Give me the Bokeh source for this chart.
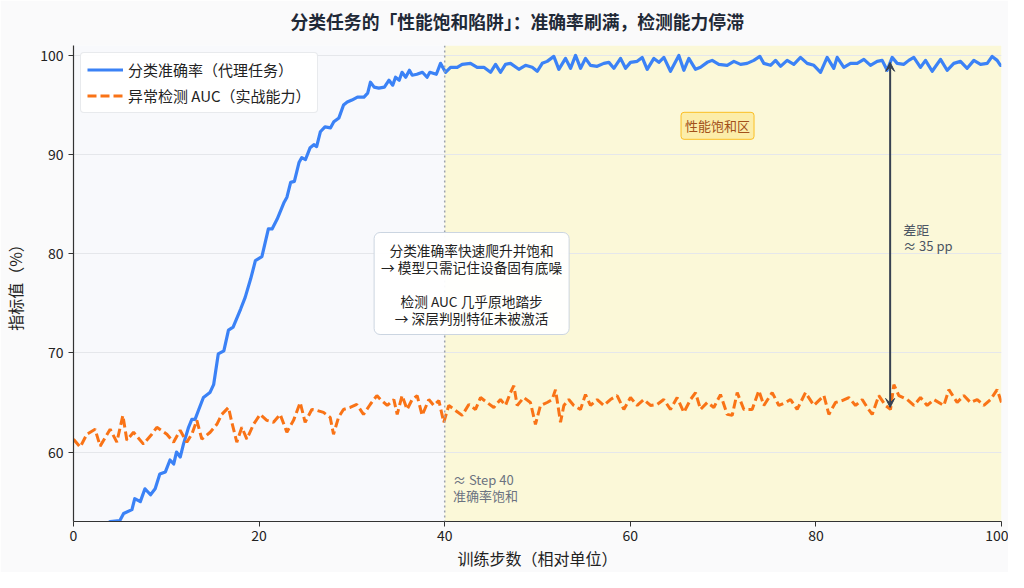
from bokeh.plotting import figure
from bokeh.models import (ColumnDataSource, BoxAnnotation, Span, Label, Arrow,
                          VeeHead, Range1d, FixedTicker, Legend, LegendItem, Title)
from bokeh.embed import file_html
from bokeh.resources import INLINE

FONT = "Noto Sans CJK SC"

title_text = "分类任务的「性能饱和陷阱」：准确率刷满，检测能力停滞"
x_label = "训练步数（相对单位）"
y_label = "指标值（%）"
acc_name = "分类准确率（代理任务）"
auc_name = "异常检测 AUC（实战能力）"
x_ticks = [0, 20, 40, 60, 80, 100]
y_ticks = [60, 70, 80, 90, 100]

# classification accuracy (proxy task)
acc_steps = [0, 1, 2, 3, 3.95, 5.0, 5.4, 6.3, 6.6, 7.2, 7.7, 8.3, 8.8, 9.3, 9.9,
             10.4, 10.8, 11.1, 11.5, 11.85, 12.4, 12.75, 13.1, 13.5, 14.0, 14.7,
             15.1, 15.6, 16.2, 16.7, 17.2, 18.0, 18.5, 19.1, 19.6, 20.3, 21.0,
             21.4, 21.95, 22.7, 23.0, 23.4, 23.8, 24.3, 24.6, 25.0, 25.5, 25.9,
             26.2, 26.6, 27.1, 27.7, 28.05, 28.6, 29.1, 29.5, 30.0, 30.6, 31.3,
             31.7, 32.0, 32.4, 32.9, 33.5, 34.0, 34.4, 34.7, 35.1, 35.4, 35.8,
             36.2, 36.5, 37.0, 37.6, 38.1, 38.4, 39.1,
             39.55, 40.09, 40.63, 41.35, 41.88, 42.78, 43.5, 44.22, 44.94, 45.48,
             46.02, 46.55, 47.09, 47.99, 48.71, 49.43, 49.97, 50.51, 51.04, 51.76,
             52.3, 53.02, 53.56, 54.1, 54.64, 55.17, 55.71, 56.43, 57.15, 57.69,
             58.23, 58.95, 59.49, 60.02, 60.74, 61.28, 61.82, 62.54, 63.08, 63.62,
             64.33, 65.23, 65.77, 66.31, 67.03, 67.57, 68.29, 68.82, 69.54,
             70.44, 71.16, 71.88, 72.59, 73.31, 73.96, 74.39, 75.11, 75.65, 76.19,
             76.9, 77.62, 78.34, 79.06, 79.78, 80.5, 81.21, 81.93, 82.29, 83.01,
             83.73, 84.45, 85.17, 85.88, 86.6, 87.14, 87.68, 88.22, 88.76, 89.48,
             90.01, 90.55, 91.27, 91.81, 92.53, 93.43, 94.14, 94.86, 95.58, 96.3,
             97.02, 97.74, 98.46, 98.99, 99.53, 99.89, 100]
acc_values = [49.5, 50.3, 51.0, 52.2, 53.0, 53.1, 53.8, 54.2, 55.3, 55.0, 56.3, 55.7, 56.3, 57.8, 58.0,
              59.2, 58.8, 60.0, 59.5, 60.8, 62.5, 63.3, 63.3, 64.3, 65.5, 66.0,
              66.8, 69.9, 70.2, 72.3, 72.6, 74.4, 75.6, 77.5, 79.3, 79.7, 82.5,
              82.5, 83.5, 85.2, 85.7, 87.2, 87.3, 89.2, 89.7, 89.5, 90.7, 91.0,
              90.8, 92.3, 92.8, 92.7, 93.3, 93.7, 95.0, 95.3, 95.5, 95.8, 95.8,
              96.2, 97.3, 96.8, 96.7, 96.8, 97.5, 97.0, 97.8, 97.5, 98.3, 97.8,
              98.5, 98.0, 98.1, 98.3, 97.8, 98.3, 98.1,
              99.2, 98.3, 98.8, 98.8, 99.1, 99.2, 98.8, 98.8, 98.3, 99.1,
              98.3, 99.1, 99.2, 98.6, 99.0, 98.8, 98.4, 99.2, 99.4, 99.9,
              98.6, 99.7, 98.7, 100.0, 98.7, 99.7, 99.0, 98.9, 99.2, 99.3,
              98.7, 99.7, 98.7, 99.3, 99.4, 99.8, 98.6, 99.7, 99.3, 99.8,
              98.4, 100.0, 98.5, 99.7, 98.6, 98.8, 99.3, 99.5, 99.1,
              99.0, 99.4, 99.1, 99.2, 99.5, 99.9, 99.2, 99.0, 99.5, 98.9,
              99.5, 99.1, 99.8, 99.2, 99.0, 98.3, 99.8, 98.7, 99.8, 98.8,
              99.2, 99.2, 99.6, 99.0, 99.4, 99.5, 98.5, 99.8, 99.2, 99.1,
              99.5, 99.8, 98.8, 99.5, 98.4, 99.6, 98.5, 99.2, 99.4, 98.7,
              99.5, 99.1, 99.2, 99.9, 99.5, 99.0, 99.0]

# anomaly-detection AUC (real capability)
auc_steps = [0, 0.72, 1.44, 2.33, 2.87, 3.95, 4.67, 5.32, 5.75, 6.47, 7.54, 8.44, 8.98,
             10.06, 10.78, 11.49, 12.21, 12.75, 13.29, 13.83, 14.73, 15.45, 15.98,
             16.7, 17.06, 17.6, 18.14, 18.68, 19.4, 20.11, 20.83, 21.55, 22.27,
             22.99, 23.71, 24.43, 24.96, 25.68, 26.22, 26.94, 27.66, 28.02, 28.56,
             29.09, 29.81, 30.53, 31.25, 31.97, 32.69,
             33.08, 33.8, 34.52, 34.88, 35.41, 35.95, 36.49, 37.03, 37.57, 38.29,
             38.83, 39.37, 39.9, 40.44, 41.16, 41.88, 42.6, 43.32, 43.86, 44.57,
             45.29, 46.01, 46.55, 47.09, 47.45, 47.81, 48.53, 49.24, 49.78, 50.32,
             51.04, 51.58, 51.94, 52.48, 52.84, 53.37, 53.91, 54.63, 55.17, 55.71,
             56.43, 57.15, 57.86, 58.58, 59.3, 60.02, 60.74, 61.46, 62.18, 62.89,
             63.61, 64.33, 65.05, 65.77,
             66.49, 67.03, 67.57, 68.29, 69.0, 69.72, 70.44, 70.98, 71.52, 72.24,
             73.13, 73.85, 74.39, 75.29, 76.01, 76.73, 77.27, 77.98, 78.88, 79.78,
             80.86, 81.4, 82.11, 82.83, 83.55, 84.27, 84.99, 85.53, 86.07, 86.78,
             87.5, 88.04, 88.4, 88.94, 89.84, 90.56, 91.27, 91.99, 92.71, 93.79,
             94.33, 95.22, 95.94, 96.66, 97.38, 98.1, 98.82, 99.53, 100]
auc_values = [61.3, 60.5, 61.8, 62.3, 60.6, 62.3, 61.0, 63.7, 61.2, 62.0, 60.8, 61.8, 62.5,
              61.8, 61.0, 62.2, 61.0, 61.8, 63.2, 61.3, 62.0, 62.8, 63.8,
              64.5, 63.0, 61.0, 62.5, 61.3, 62.8, 63.8, 63.2, 63.0, 63.8,
              62.0, 63.2, 65.0, 63.0, 64.3, 64.2, 64.0, 63.5, 61.8, 63.5,
              64.3, 64.5, 64.8, 63.8, 64.8, 65.7,
              65.3, 64.7, 65.3, 63.8, 65.7, 64.3, 65.3, 65.7, 63.7, 65.3,
              64.7, 65.2, 63.0, 64.7, 64.2, 63.7, 64.8, 64.3, 65.5, 65.0,
              64.5, 65.3, 64.7, 66.0, 66.7, 64.7, 65.5, 65.0, 62.8, 64.7,
              65.0, 65.3, 66.3, 63.0, 64.7, 65.3, 64.7, 64.3, 65.8, 64.7,
              65.3, 64.7, 65.3, 65.7, 64.3, 65.5, 64.7, 65.3, 64.7, 64.8,
              65.3, 64.3, 65.5, 64.0,
              65.3, 66.0, 64.3, 65.0, 64.5, 65.8, 63.8, 63.7, 66.0, 64.3,
              64.3, 66.2, 64.7, 66.0, 64.7, 65.0, 65.3, 64.3, 66.0, 64.7,
              65.7, 63.8, 65.0, 65.2, 65.5, 64.7, 65.3, 64.5, 63.8, 65.7,
              64.7, 64.3, 66.8, 65.7, 65.3, 64.7, 65.5, 64.7, 65.3, 64.7,
              66.3, 65.0, 65.7, 65.0, 65.3, 64.7, 65.3, 66.3, 65.0]

saturation_start = 40
gap_step = 88
gap_top = 99.3
gap_bottom = 64.5

note_text = ("分类准确率快速爬升并饱和\n→ 模型只需记住设备固有底噪\n\n"
             "检测 AUC 几乎原地踏步\n→ 深层判别特征未被激活")
zone_text = "性能饱和区"
gap_text = "差距\n≈ 35 pp"
step_text = "≈ Step 40\n准确率饱和"

BLUE = "#3B82F6"
ORANGE = "#F97316"

p = figure(width=1008, height=572, output_backend="svg", toolbar_location=None,
           x_range=Range1d(0, 100), y_range=Range1d(53, 101),
           min_border_left=73, min_border_right=7, min_border_top=45,
           min_border_bottom=47)
p.background_fill_color = "#F8F9FC"
p.border_fill_color = "#FAFAFB"
p.outline_line_color = None

# main title, with a small spacer title between it and the frame
p.title.text = title_text
p.title.align = "left"
p.title.offset = 217
p.title.standoff = 8
p.title.text_font = FONT
p.title.text_font_size = "17.8px"
p.title.text_font_style = "bold"
p.title.text_color = "#1F2937"
spacer = Title(text=" ", text_font_size="6px", standoff=0)
p.add_layout(spacer, "above")

zone = BoxAnnotation(left=saturation_start, right=100, fill_color="#FBF8D8",
                     fill_alpha=1.0, line_color=None, level="image")
p.add_layout(zone)

p.xgrid.visible = False
p.ygrid.grid_line_color = "#E5E7EB"
p.ygrid.grid_line_width = 1
p.ygrid.ticker = FixedTicker(ticks=y_ticks)

p.add_layout(Span(location=saturation_start, dimension="height",
                  line_color="#9CA3AF", line_dash="2 3", line_width=1.5))

src_acc = ColumnDataSource(dict(x=acc_steps, y=acc_values))
src_auc = ColumnDataSource(dict(x=auc_steps, y=auc_values))
r_acc = p.line("x", "y", source=src_acc, line_color=BLUE, line_width=3.2,
               line_join="round")
r_auc = p.line("x", "y", source=src_auc, line_color=ORANGE, line_width=3.0,
               line_dash="9 4")

for ax in (p.xaxis, p.yaxis):
    ax.axis_line_color = "#333333"
    ax.axis_line_width = 1.2
    ax.major_tick_line_color = "#333333"
    ax.major_tick_out = 5
    ax.major_tick_in = 0
    ax.minor_tick_out = 0
    ax.minor_tick_in = 0
    ax.major_label_text_font = FONT
    ax.major_label_text_font_size = "14px"
    ax.major_label_text_color = "#222222"
    ax.axis_label_text_font = FONT
    ax.axis_label_text_font_size = "16px"
    ax.axis_label_text_font_style = "normal"
    ax.axis_label_text_color = "#222222"
p.xaxis.ticker = FixedTicker(ticks=x_ticks)
p.yaxis.ticker = FixedTicker(ticks=y_ticks)
p.xaxis.axis_label = x_label
p.yaxis.axis_label = y_label
p.xaxis.axis_label_standoff = 2
p.xaxis.major_label_standoff = 3
p.yaxis.axis_label_standoff = 10

legend = Legend(items=[LegendItem(label=acc_name, renderers=[r_acc]),
                       LegendItem(label=auc_name, renderers=[r_auc])],
                location="top_left")
legend.label_text_font = FONT
legend.label_text_font_size = "15px"
legend.label_text_color = "#222222"
legend.glyph_width = 36
legend.glyph_height = 19
legend.label_height = 19
legend.spacing = 5
legend.padding = 6
legend.margin = 7
legend.border_line_color = "#D1D5DB"
legend.border_radius = 4
legend.background_fill_color = "white"
legend.background_fill_alpha = 0.95
p.add_layout(legend)

p.add_layout(Label(x=42.9, y=77, text=note_text, text_align="center",
                   text_baseline="middle", text_font=FONT,
                   text_font_size="13.7px", text_color="#222222",
                   text_line_height=0.85,
                   background_fill_color="white", background_fill_alpha=0.95,
                   border_line_color="#CBD5E1", border_line_width=1,
                   padding=7, border_radius=6))

p.add_layout(Label(x=69.4, y=92.9, text=zone_text, text_align="center",
                   text_baseline="middle", text_font=FONT,
                   text_font_size="13px", text_color="#A2511A",
                   background_fill_color="#FDE68A", background_fill_alpha=0.6,
                   border_line_color="#FBBF24", border_line_width=1,
                   padding=4, border_radius=3))

p.add_layout(Arrow(start=VeeHead(size=9, line_color="#374151", fill_color="#374151"),
                   end=VeeHead(size=9, line_color="#374151", fill_color="#374151"),
                   x_start=gap_step, y_start=gap_bottom, x_end=gap_step, y_end=gap_top,
                   line_color="#374151", line_width=2))

p.add_layout(Label(x=89.4, y=81.6, text=gap_text, text_align="left",
                   text_baseline="middle", text_font=FONT,
                   text_font_size="13px", text_color="#4B5563",
                   text_line_height=0.85))

p.add_layout(Label(x=40.9, y=56.45, text=step_text, text_align="left",
                   text_baseline="middle", text_font=FONT,
                   text_font_size="13px", text_color="#6B7280",
                   text_line_height=0.85))

open("out.html", "w").write(file_html(p, INLINE))
